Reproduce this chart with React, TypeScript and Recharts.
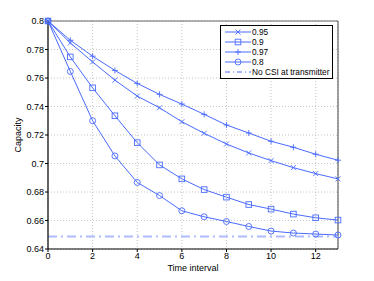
import React from 'react';
import { LineChart, Line, XAxis, YAxis, CartesianGrid, ReferenceLine } from 'recharts';

const timeSteps = [0, 1, 2, 3, 4, 5, 6, 7, 8, 9, 10, 11, 12, 13];
const s095 = [0.8, 0.7846, 0.7713, 0.7585, 0.7473, 0.7391, 0.7293, 0.7212, 0.7137, 0.7074, 0.702, 0.6971, 0.6929, 0.6892];
const s09 = [0.8, 0.7748, 0.7531, 0.7335, 0.7146, 0.699, 0.6892, 0.6817, 0.6764, 0.6712, 0.668, 0.6645, 0.6619, 0.6603];
const s097 = [0.8, 0.7865, 0.7753, 0.7653, 0.7562, 0.7485, 0.7417, 0.7345, 0.727, 0.7214, 0.7156, 0.7114, 0.7065, 0.7023];
const s08 = [0.8, 0.7646, 0.73, 0.7053, 0.6867, 0.6775, 0.6668, 0.6626, 0.6593, 0.6558, 0.6526, 0.6512, 0.6505, 0.6498];
const noCsi = 0.6487;
const xTicks = [0, 2, 4, 6, 8, 10, 12];
const yTicks = [0.64, 0.66, 0.68, 0.7, 0.72, 0.74, 0.76, 0.78, 0.8];
const seriesNames = ['0.95', '0.9', '0.97', '0.8', 'No CSI at transmitter'];

const data = timeSteps.map((t, i) => ({
  t,
  a: s095[i],
  b: s09[i],
  c: s097[i],
  d: s08[i],
  e: noCsi,
}));

const BLUE = '#4a6bff';
const LIGHT = '#aebcff';
const FONT = 'Liberation Sans, Arial, sans-serif';

const XDot = (p: any) => {
  const { cx, cy } = p;
  if (cx == null || cy == null) return null;
  const r = 2.5;
  return (
    <g>
      <line x1={cx - r} y1={cy - r} x2={cx + r} y2={cy + r} stroke={BLUE} strokeWidth={0.9} />
      <line x1={cx - r} y1={cy + r} x2={cx + r} y2={cy - r} stroke={BLUE} strokeWidth={0.9} />
    </g>
  );
};
const SqDot = (p: any) => {
  const { cx, cy } = p;
  if (cx == null || cy == null) return null;
  const r = 2.8;
  return <rect x={cx - r} y={cy - r} width={2 * r} height={2 * r} fill="none" stroke={BLUE} strokeWidth={0.9} />;
};
const PlusDot = (p: any) => {
  const { cx, cy } = p;
  if (cx == null || cy == null) return null;
  const r = 3;
  return (
    <g>
      <line x1={cx - r} y1={cy} x2={cx + r} y2={cy} stroke={BLUE} strokeWidth={0.9} />
      <line x1={cx} y1={cy - r} x2={cx} y2={cy + r} stroke={BLUE} strokeWidth={0.9} />
    </g>
  );
};
const CircDot = (p: any) => {
  const { cx, cy } = p;
  if (cx == null || cy == null) return null;
  return <circle cx={cx} cy={cy} r={3} fill="none" stroke={BLUE} strokeWidth={0.9} />;
};

const markers = [XDot, SqDot, PlusDot, CircDot];

const CustomLegend = () => (
  <div
    style={{
      position: 'absolute',
      left: 220,
      top: 25,
      boxSizing: 'border-box',
      width: 113,
      height: 54,
      border: '1px solid #000',
      background: '#fff',
      padding: '1px 0',
      fontFamily: FONT,
      fontSize: 8.3,
      lineHeight: '10px',
      color: '#000',
      whiteSpace: 'nowrap',
      overflow: 'hidden',
    }}
  >
    {seriesNames.map((n, i) => (
      <div key={n} style={{ display: 'flex', alignItems: 'center', height: 10 }}>
        <svg width={31} height={10} style={{ display: 'block', flex: 'none' }}>
          {i < 4 ? (
            <>
              <line x1={4} y1={5} x2={30} y2={5} stroke={BLUE} strokeWidth={1} />
              {React.createElement(markers[i], { cx: 17, cy: 5 })}
            </>
          ) : (
            <line x1={4} y1={5} x2={30} y2={5} stroke={BLUE} strokeWidth={1} strokeDasharray="5 3 1 3" />
          )}
        </svg>
        <span>{n}</span>
      </div>
    ))}
  </div>
);

export default function App() {
  return (
    <div style={{ position: 'absolute', left: 0, top: 0, width: 374, height: 281, background: '#fff' }}>
      <LineChart width={374} height={281} data={data} margin={{ top: 21, right: 36, left: 0, bottom: 0 }}>
        <CartesianGrid xAxisId="main" yAxisId="main" stroke="#b8b8b8" strokeDasharray="1 2" strokeWidth={0.8} />
        <XAxis
          xAxisId="main"
          dataKey="t"
          type="number"
          domain={[0, 13]}
          ticks={xTicks}
          height={32}
          tick={{ fontSize: 9, fill: '#000', fontFamily: FONT }}
          tickSize={3}
          tickMargin={1}
          stroke="#000"
          axisLine={{ stroke: '#000', strokeWidth: 1.2 }}
          label={{ value: 'Time interval', position: 'insideBottom', offset: 10, fontSize: 9, fill: '#000', fontFamily: FONT }}
        />
        <YAxis
          yAxisId="main"
          domain={[0.64, 0.8]}
          ticks={yTicks}
          width={48}
          tick={{ fontSize: 9, fill: '#000', fontFamily: FONT }}
          tickFormatter={(v: number) => String(parseFloat(v.toFixed(2)))}
          tickSize={3}
          tickMargin={1}
          stroke="#000"
          axisLine={{ stroke: '#000', strokeWidth: 1.2 }}
          label={{ value: 'Capacity', angle: -90, position: 'insideLeft', offset: 18, fontSize: 9, fill: '#000', fontFamily: FONT, style: { textAnchor: 'middle' } }}
        />
        <ReferenceLine xAxisId="main" yAxisId="main" y={0.8} stroke="#666" strokeWidth={1} />
        <ReferenceLine xAxisId="main" yAxisId="main" x={13} stroke="#444" strokeWidth={1} />
        <Line xAxisId="main" yAxisId="main" dataKey="e" stroke={LIGHT} strokeWidth={2} strokeDasharray="9 4 2 4" dot={false} isAnimationActive={false} />
        <Line xAxisId="main" yAxisId="main" dataKey="a" stroke={BLUE} strokeWidth={1} dot={<XDot />} isAnimationActive={false} />
        <Line xAxisId="main" yAxisId="main" dataKey="b" stroke={BLUE} strokeWidth={1} dot={<SqDot />} isAnimationActive={false} />
        <Line xAxisId="main" yAxisId="main" dataKey="c" stroke={BLUE} strokeWidth={1} dot={<PlusDot />} isAnimationActive={false} />
        <Line xAxisId="main" yAxisId="main" dataKey="d" stroke={BLUE} strokeWidth={1} dot={<CircDot />} isAnimationActive={false} />
      </LineChart>
      <CustomLegend />
    </div>
  );
}
